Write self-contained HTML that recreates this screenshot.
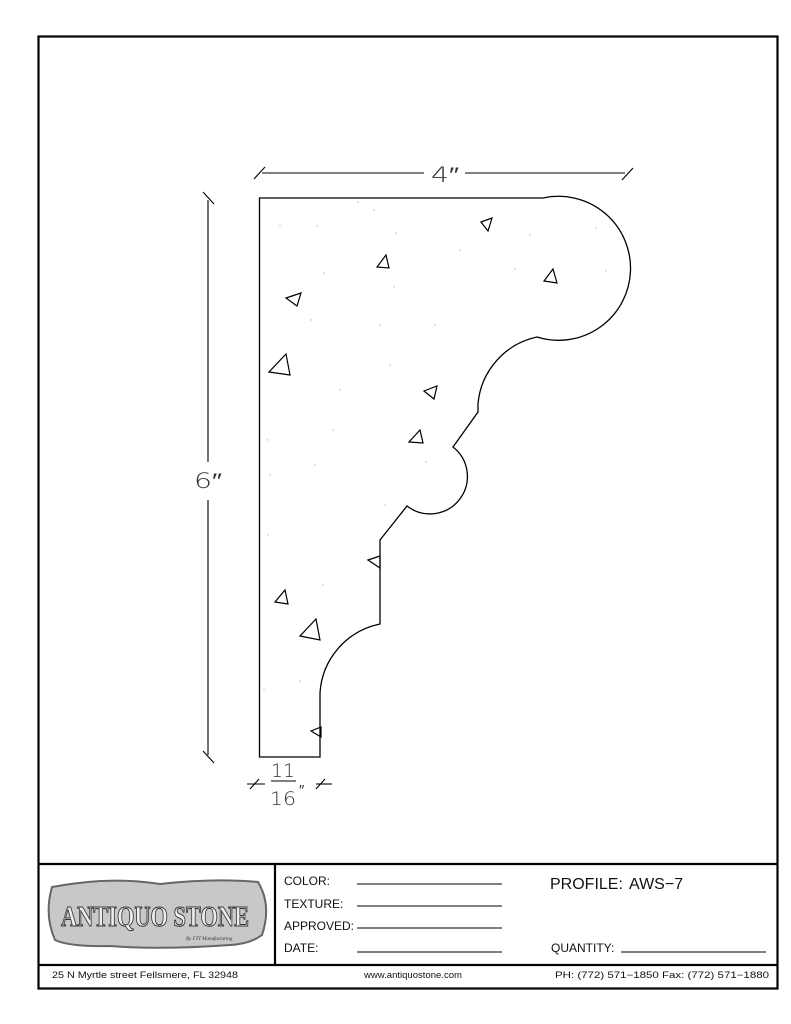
<!DOCTYPE html>
<html><head><meta charset="utf-8"><style>
html,body{margin:0;padding:0;background:#fff;}
body{width:791px;height:1024px;position:relative;overflow:hidden;font-family:"Liberation Sans",sans-serif;}
</style></head><body>
<svg width="791" height="1024" viewBox="0 0 791 1024" xmlns="http://www.w3.org/2000/svg" style="position:absolute;left:0;top:0">
<rect x="38.5" y="36.5" width="739" height="952" fill="none" stroke="#000" stroke-width="2.2"/>
<line x1="38" y1="864" x2="778" y2="864" stroke="#000" stroke-width="2.2"/>
<line x1="38" y1="965" x2="778" y2="965" stroke="#000" stroke-width="2.2"/>
<line x1="275" y1="864" x2="275" y2="965" stroke="#000" stroke-width="2.2"/>

<path d="M259.5 198 L543 198 A72 72 0 1 1 537 337 A75 75 0 0 0 478 404 L478 412 L453 447 A30 30 0 0 1 407 506 L380 540 L380 624 A75 75 0 0 0 320 693 L320 757 L259.5 757 Z" fill="none" stroke="#000" stroke-width="1.3"/>

<g fill="none" stroke="#000" stroke-width="1.2">
<path d="M481 222 L492 218 L488 231 Z"/>
<path d="M377 267 L389 268 L386 255 Z"/>
<path d="M544 281 L557 283 L553 269 Z"/>
<path d="M286 298 L301 293 L297 306 Z"/>
<path d="M269 372 L290 375 L286 354 Z"/>
<path d="M424 391 L437 386 L434 399 Z"/>
<path d="M409 442 L423 443 L420 430 Z"/>
<path d="M368 560 L380 556 L380 568 Z"/>
<path d="M275 602 L288 604 L285 590 Z"/>
<path d="M300 636 L320 640 L316 619 Z"/>
<path d="M311 731 L321 727 L321 737 Z"/>
</g>
<g fill="#bbb">
<circle cx="280" cy="226" r="0.7"/><circle cx="317" cy="226" r="0.7"/><circle cx="358" cy="202" r="0.7"/><circle cx="374" cy="210" r="0.7"/><circle cx="396" cy="233" r="0.7"/><circle cx="460" cy="250" r="0.7"/><circle cx="530" cy="235" r="0.7"/><circle cx="596" cy="228" r="0.7"/><circle cx="606" cy="271" r="0.7"/><circle cx="515" cy="269" r="0.7"/><circle cx="394" cy="287" r="0.7"/><circle cx="324" cy="273" r="0.7"/><circle cx="311" cy="320" r="0.7"/><circle cx="380" cy="325" r="0.7"/><circle cx="435" cy="325" r="0.7"/><circle cx="390" cy="365" r="0.7"/><circle cx="340" cy="390" r="0.7"/><circle cx="267" cy="440" r="0.7"/><circle cx="333" cy="430" r="0.7"/><circle cx="270" cy="475" r="0.7"/><circle cx="315" cy="465" r="0.7"/><circle cx="426" cy="462" r="0.7"/><circle cx="268" cy="535" r="0.7"/><circle cx="385" cy="505" r="0.7"/><circle cx="264" cy="690" r="0.7"/><circle cx="300" cy="681" r="0.7"/><circle cx="323" cy="585" r="0.7"/>
</g>

<g stroke="#000" stroke-width="1.1" fill="none">
<line x1="262" y1="173" x2="424" y2="173"/>
<line x1="465" y1="173" x2="625" y2="173"/>
<line x1="254" y1="179" x2="265" y2="167"/>
<line x1="622" y1="180" x2="633" y2="168"/>
<line x1="208" y1="200" x2="208" y2="462"/>
<line x1="208" y1="500" x2="208" y2="755"/>
<line x1="203" y1="192" x2="214" y2="204"/>
<line x1="203" y1="751" x2="214" y2="763"/>
<line x1="247" y1="784" x2="265" y2="784"/>
<line x1="250" y1="789" x2="259" y2="779"/>
<line x1="316" y1="784" x2="332" y2="784"/>
<line x1="316" y1="789" x2="325" y2="779"/>
<line x1="271" y1="781" x2="296" y2="781"/>
</g>
<g font-family="DejaVu Sans, sans-serif" fill="#333" font-weight="200">
<text x="431" y="182" font-size="21" textLength="28" lengthAdjust="spacingAndGlyphs">4″</text>
<text x="194" y="488" font-size="21" textLength="28" lengthAdjust="spacingAndGlyphs">6″</text>
<text x="271" y="777" font-size="19" textLength="24" lengthAdjust="spacingAndGlyphs">11</text>
<text x="270" y="805" font-size="19" textLength="26" lengthAdjust="spacingAndGlyphs">16</text>
<text x="299" y="795" font-size="15">″</text>
</g>

<path d="M52 887 Q110 876 160 884 Q215 878 258 882 Q272 905 262 935 Q250 944 230 945 Q160 950 110 946 Q70 947 55 940 Q44 915 52 887 Z" fill="#c8c8c8" stroke="#666" stroke-width="2"/>
<text x="155" y="926" text-anchor="middle" font-family="Liberation Serif, serif" font-size="28" font-weight="bold" fill="#eee" stroke="#333" stroke-width="1" textLength="188" lengthAdjust="spacingAndGlyphs">ANTIQUO STONE</text>
<text x="186" y="940" font-family="Liberation Serif, serif" font-size="5" font-style="italic" fill="#333">By FTT Manufacturing</text>

<g font-family="Liberation Sans, sans-serif" fill="#111" font-size="12">
<text x="284" y="885">COLOR:</text>
<text x="284" y="908">TEXTURE:</text>
<text x="284" y="930">APPROVED:</text>
<text x="284" y="952">DATE:</text>
<text x="551" y="952">QUANTITY:</text>
<text x="550" y="889" font-size="16">PROFILE:</text>
<text x="629" y="889" font-size="16">AWS−7</text>
</g>
<g stroke="#000" stroke-width="1.1">
<line x1="357" y1="884" x2="502" y2="884"/>
<line x1="357" y1="906" x2="502" y2="906"/>
<line x1="357" y1="928" x2="502" y2="928"/>
<line x1="357" y1="952" x2="502" y2="952"/>
<line x1="621" y1="952" x2="766" y2="952"/>
</g>
<g font-family="Liberation Sans, sans-serif" fill="#111" font-size="9">
<text x="52" y="978" textLength="186" lengthAdjust="spacingAndGlyphs">25 N Myrtle street Fellsmere, FL 32948</text>
<text x="364" y="978" textLength="98" lengthAdjust="spacingAndGlyphs">www.antiquostone.com</text>
<text x="555" y="978" textLength="214" lengthAdjust="spacingAndGlyphs">PH:  (772)  571−1850   Fax:  (772)  571−1880</text>
</g>
</svg>
</body></html>
